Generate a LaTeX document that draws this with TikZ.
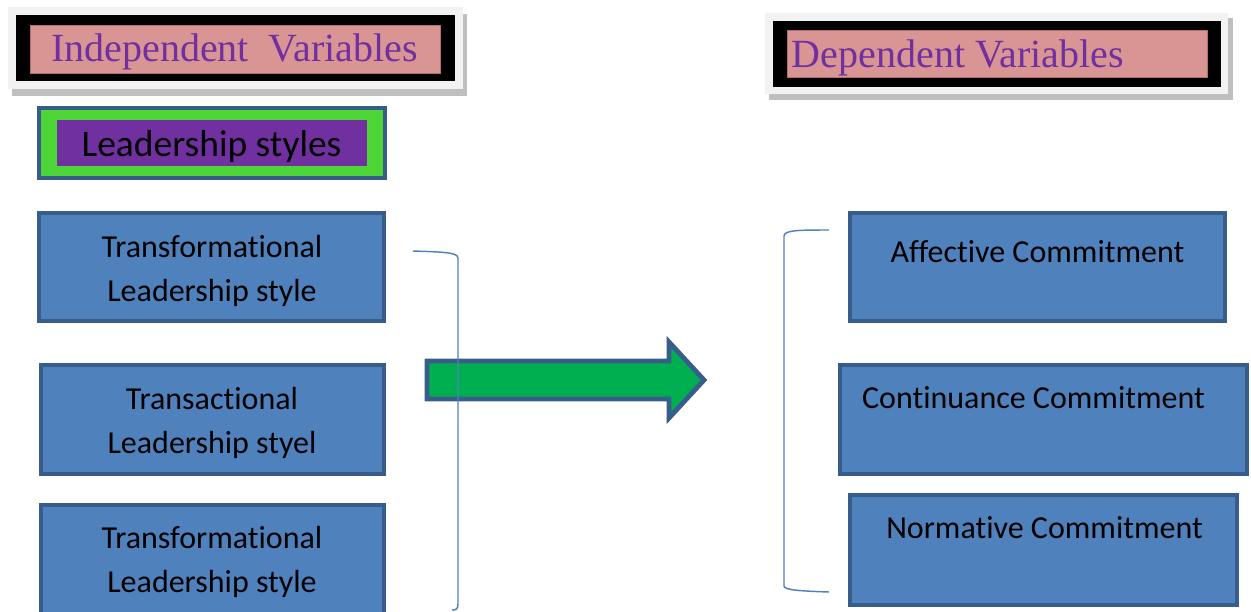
\documentclass[tikz,border=0pt]{standalone}
\usepackage{fontspec}
\newfontfamily\calibrifont[Ligatures=NoCommon]{Carlito}
\newfontfamily\cambriafont{Liberation Serif}
\usetikzlibrary{fit}
\definecolor{boxblue}{RGB}{79,129,189}
\definecolor{edgeblue}{RGB}{56,93,138}
\definecolor{titlepink}{RGB}{217,149,148}
\definecolor{pinkedge}{RGB}{176,112,111}
\definecolor{titlepurple}{RGB}{112,48,160}
\definecolor{framegray}{RGB}{242,242,242}
\definecolor{shadowgray}{RGB}{191,191,191}
\definecolor{leadgreen}{RGB}{78,213,55}
\definecolor{arrowgreen}{RGB}{0,176,80}
\tikzset{every picture/.style={line width=0.75pt}}
\tikzset{
	bluebox/.style={draw=edgeblue, fill=boxblue, line width=3pt, inner sep=0pt},
	boxtext/.style={inner sep=0pt, align=center, font=\calibrifont\fontsize{24}{33.5}\selectfont},
	titletext/.style={inner sep=0pt, text=titlepurple, font=\cambriafont\fontsize{30}{35}\selectfont},
	leadbox/.style={draw=edgeblue, fill=leadgreen, line width=3pt, inner sep=0pt},
	leadinner/.style={fill=titlepurple, inner sep=0pt},
	bracket/.style={draw=boxblue, line width=1.1pt},
	bigarrow/.style={draw=edgeblue, fill=arrowgreen, line width=3.6pt}}

\begin{document}
\begin{tikzpicture}[x=0.75pt,y=0.75pt,yscale=-1,xscale=1]
	\useasboundingbox (0,0) rectangle (1251,611);

	%Shape: Rectangle [title left]
	\fill[shadowgray] (12,14) rectangle (467,96);
	\fill[framegray] (8,7) rectangle (463,89);
	\fill[black] (16,15) rectangle (455,81);
	\draw[fill=titlepink, draw=pinkedge] (30,25) rectangle (440,73);
	% Text Node
	\node[titletext, anchor=base] (indep) at (234.5,61) {Independent~ Variables};

	%Shape: Rectangle [title right]
	\fill[shadowgray] (769,18) rectangle (1233,100);
	\fill[framegray] (765,13) rectangle (1228,94);
	\fill[black] (773,21) rectangle (1221,87);
	\draw[fill=titlepink, draw=pinkedge] (787,30) rectangle (1207,77);
	% Text Node
	\node[titletext, anchor=base] (dep) at (958,67) {Dependent Variables};

	%Shape: Rectangle [leadership]
	\node[leadbox, fit={(39,108) (385,178)}] (lead) {};
	\node[leadinner, fit={(57,120) (367,166)}] (leadin) {};
	\node[boxtext, anchor=base, font=\calibrifont\fontsize{28.1}{33}\selectfont] (leadtxt) at (211.5,156) {Leadership styles};

	%Shape: Rectangle [independent boxes]
	\node[bluebox, fit={(39,213) (384,321)}] (transf) {};
	\node[bluebox, fit={(41,365) (384,474)}] (transa) {};
	\node[bluebox, fit={(41,505) (384,616)}] (transf2) {};
	% Text Node
	\node[boxtext] (transftxt) at (212,271) {Transformational\\Leadership style};
	% Text Node
	\node[boxtext] (transatxt) at (212,423) {Transactional\\Leadership styel};
	% Text Node
	\node[boxtext] (transf2txt) at (212,562) {Transformational\\Leadership style};

	%Shape: Rectangle [dependent boxes]
	\node[bluebox, fit={(850,213) (1225,321)}] (aff) {};
	\node[bluebox, fit={(840,365) (1247,474)}] (cont) {};
	\node[bluebox, fit={(850,495) (1237,605)}] (norm) {};
	% Text Node
	\node[boxtext, anchor=base] (afftxt) at (1037.5,262) {Affective Commitment};
	% Text Node
	\node[boxtext, anchor=base] (conttxt) at (1033.5,408) {Continuance Commitment};
	% Text Node
	\node[boxtext, anchor=base] (normtxt) at (1044.5,538) {Normative Commitment};

	%Shape: Right Arrow
	\draw[bigarrow] (427,361) -- (669,361) -- (669,342) -- (704,380) -- (669,418) -- (669,399) -- (427,399) -- cycle;

	%Curve Lines [left bracket]
	\draw[bracket] (413,251) .. controls (440,252) and (458,252) .. (458,258) -- (458,604) .. controls (458,609) and (456,610) .. (452,610);
	%Curve Lines [right bracket]
	\draw[bracket] (829,230) .. controls (800,230) and (784,230) .. (784,236) -- (784,586) .. controls (784,590) and (800,591) .. (829,592);
\end{tikzpicture}
\end{document}
